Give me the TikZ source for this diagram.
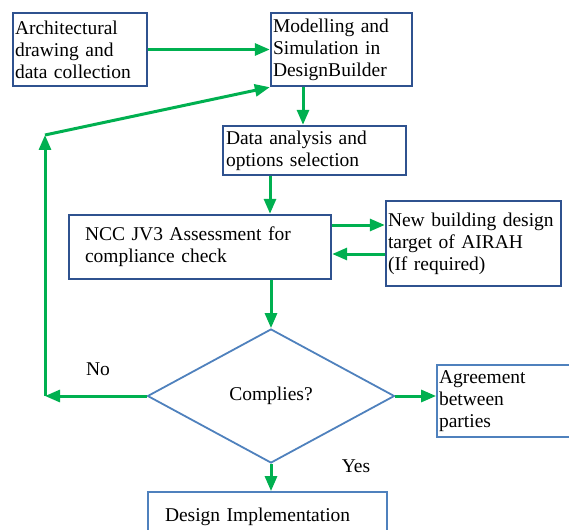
\documentclass[tikz,border=0pt]{standalone}
\usepackage{fontspec}
\setmainfont{Liberation Serif}
\usetikzlibrary{shapes.geometric,arrows.meta}
\definecolor{navy}{HTML}{2F528F}
\definecolor{lblue}{HTML}{4F81BD}
\definecolor{flowgreen}{HTML}{00B050}

\begin{document}
\begin{tikzpicture}[x=1pt, y=-1pt, >={Triangle[length=15pt,width=12pt]},
    every node/.style={font=\fontsize{19.5}{22}\selectfont},
    navybox/.style={draw=navy, line width=2.4pt, align=left, inner xsep=2pt, inner ysep=0pt},
    bluebox/.style={draw=lblue, line width=1.8pt, align=left, inner xsep=2pt, inner ysep=0pt},
    flow/.style={draw=flowgreen, line width=3pt}]
    \useasboundingbox (0,0) rectangle (569,529);

    % Process boxes
    \node[navybox, minimum width=134pt, minimum height=73pt, text width=130pt] (arch) at (80,49.5)
        {Architectural\\drawing and\\data collection};
    \node[navybox, minimum width=141pt, minimum height=73pt, text width=137pt] (model) at (341.5,49.5)
        {Modelling and\\Simulation in\\DesignBuilder};
    \node[navybox, minimum width=183pt, minimum height=49pt, text width=177pt, inner xsep=3pt] (analysis) at (314.5,150.5)
        {Data analysis and\\options selection};
    \node[navybox, minimum width=262pt, minimum height=64pt, text width=230pt, inner xsep=16pt] (ncc) at (200,247)
        {NCC JV3 Assessment for\\compliance check};
    \node[navybox, minimum width=175pt, minimum height=85pt, text width=171pt] (airah) at (473.5,243.5)
        {New building design\\target of AIRAH\\(If required)\par\vspace{12pt}};

    % Decision
    \node[draw=lblue, line width=1.8pt, shape=diamond, aspect=1.84, minimum width=247pt, minimum height=134pt, inner sep=0pt] (check) at (271,396)
        {Complies?};
    \node[bluebox, minimum width=138pt, minimum height=72pt, text width=134pt] (agree) at (506,401)
        {Agreement\\between\\parties};
    \node[bluebox, minimum width=239pt, minimum height=50pt, text width=205pt, inner xsep=17pt] (impl) at (267.5,517)
        {Design Implementation};

    % Labels
    \node (no) at (98,369) {No};
    \node (yes) at (356,466) {Yes};

    % Flow arrows
    \draw[flow, ->] (arch) -- (model);
    \draw[flow, ->] ([xshift=-38.5pt]model.south) -- ([xshift=-38.5pt]model.south |- analysis.north);
    \draw[flow, ->] ([xshift=-44.5pt]analysis.south) -- ([xshift=-44.5pt]analysis.south |- ncc.north);
    \draw[flow, ->] ([yshift=22pt]ncc.east) -- ([yshift=22pt]ncc.east -| airah.west);
    \draw[flow, ->] ([yshift=-7pt]ncc.east -| airah.west) -- ([yshift=-7pt]ncc.east);
    \draw[flow, ->] (ncc.south -| check.north) -- (check.north);
    \draw[flow, ->] (check.east) -- (check.east -| agree.west);
    \draw[flow, ->] (check.south) -- (check.south |- impl.north);

    % Loop back on No
    \coordinate (noturn) at (45,398);
    \coordinate (upturn) at (45,135);
    \draw[flow, ->] (check.west) -- (check.west -| noturn);
    \draw[flow, ->] (check.west -| noturn) -- (upturn);
    \draw[flow, ->] (upturn) -- (model.south west);
\end{tikzpicture}
\end{document}
